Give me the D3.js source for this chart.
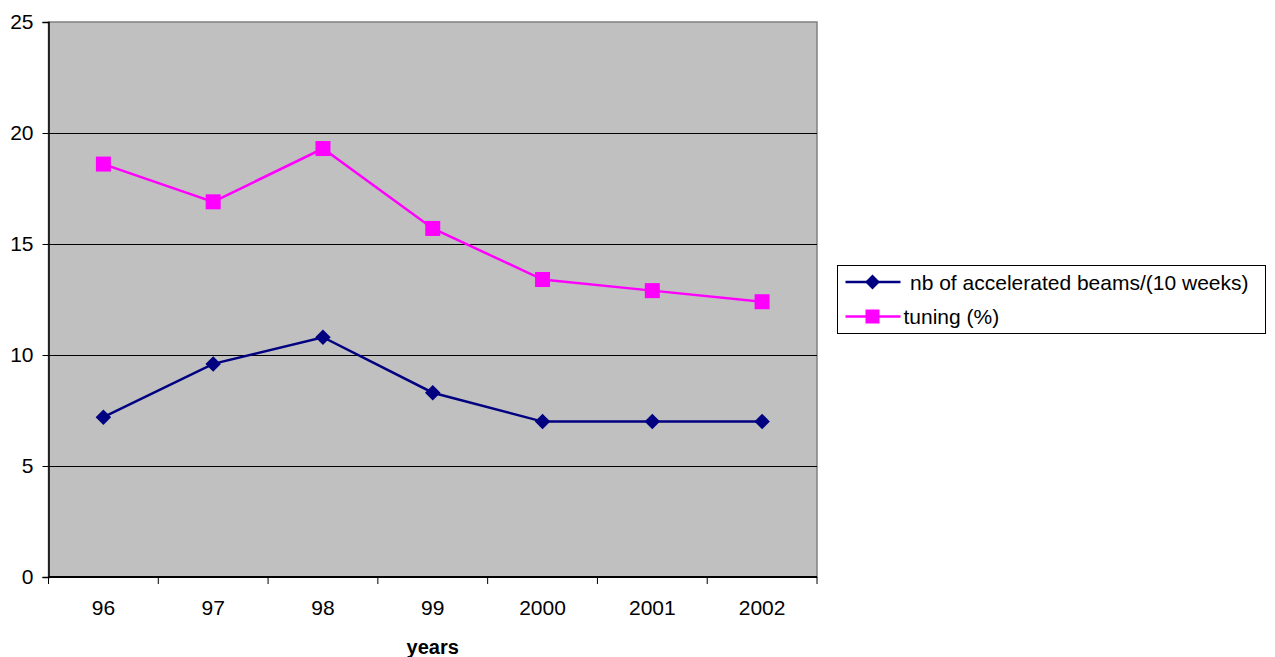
<!DOCTYPE html>
<html>
<head>
<meta charset="utf-8">
<script src="https://cdn.jsdelivr.net/npm/d3@7"></script>
<style>
  body { margin: 0; background: #fff; }
  text { font-family: "Liberation Sans", Arial, sans-serif; }
</style>
</head>
<body>
<div class="chart"></div>
<script>
var svgWidth = 1275;
var svgHeight = 657;

// data
var years = ["96", "97", "98", "99", "2000", "2001", "2002"];
var beams = [7.2, 9.6, 10.8, 8.3, 7.0, 7.0, 7.0];
var tuning = [18.6, 16.9, 19.3, 15.7, 13.4, 12.9, 12.4];
var yTicks = [0, 5, 10, 15, 20, 25];
var seriesNames = ["nb of accelerated beams/(10 weeks)", "tuning (%)"];

var fontSize = 21;

var margin = { top: 22, right: 458, bottom: 80, left: 48.5 };
var width = svgWidth - margin.left - margin.right;
var height = svgHeight - margin.top - margin.bottom;

var svg = d3.select(".chart")
  .append("svg")
  .attr("width", svgWidth)
  .attr("height", svgHeight);

var g = svg.append("g")
  .attr("transform", "translate(" + margin.left + "," + margin.top + ")");

var x = d3.scaleBand().domain(years).range([0, width]);
var y = d3.scaleLinear().domain([0, 25]).range([height, 0]);

// plot background
g.append("rect")
  .attr("width", width)
  .attr("height", height)
  .attr("fill", "#c0c0c0")
  .attr("stroke", "#808080")
  .attr("stroke-width", 1.5);

// gridlines
g.selectAll(".grid")
  .data(yTicks.filter(function(d) { return d > 0 && d < 25; }))
  .enter().append("line")
  .attr("x1", 0).attr("x2", width)
  .attr("y1", function(d) { return Math.round(y(d)) + 0.5; })
  .attr("y2", function(d) { return Math.round(y(d)) + 0.5; })
  .attr("stroke", "#000")
  .attr("stroke-width", 1);

// y axis
var yAxis = g.append("g")
  .call(d3.axisLeft(y).tickValues(yTicks).tickSize(6).tickPadding(9));
yAxis.select(".domain").attr("stroke", "#000").attr("stroke-width", 1.5);
yAxis.selectAll("text").attr("font-size", fontSize).attr("fill", "#000")
  .style("font-family", "'Liberation Sans', Arial, sans-serif");

// x axis: ticks at category boundaries
var xAxis = g.append("g")
  .attr("transform", "translate(0," + height + ")");
xAxis.append("line")
  .attr("x1", 0).attr("x2", width)
  .attr("stroke", "#000").attr("stroke-width", 2);
var bounds = years.map(function(d) { return x(d); }).concat([width]);
xAxis.selectAll(".tk")
  .data(bounds)
  .enter().append("line")
  .attr("x1", function(d) { return d; })
  .attr("x2", function(d) { return d; })
  .attr("y1", 0).attr("y2", 7)
  .attr("stroke", "#000");
xAxis.selectAll(".lbl")
  .data(years)
  .enter().append("text")
  .attr("x", function(d) { return x(d) + x.bandwidth() / 2; })
  .attr("y", 38)
  .attr("text-anchor", "middle")
  .attr("font-size", fontSize)
  .text(function(d) { return d; });

g.append("text")
  .attr("x", width / 2)
  .attr("y", height + 77)
  .attr("text-anchor", "middle")
  .attr("font-size", fontSize - 1)
  .attr("font-weight", "bold")
  .text("years");

var cx = function(d, i) { return x(years[i]) + x.bandwidth() / 2; };
var line = d3.line()
  .x(function(d, i) { return cx(d, i); })
  .y(function(d) { return y(d); });

// beams series
g.append("path")
  .attr("d", line(beams))
  .attr("fill", "none")
  .attr("stroke", "#000080")
  .attr("stroke-width", 2.5);
g.selectAll(".dia")
  .data(beams)
  .enter().append("path")
  .attr("d", d3.symbol().type(d3.symbolSquare).size(120))
  .attr("transform", function(d, i) { return "translate(" + cx(d, i) + "," + y(d) + ") rotate(45)"; })
  .attr("fill", "#000080");

// tuning series
g.append("path")
  .attr("d", line(tuning))
  .attr("fill", "none")
  .attr("stroke", "#ff00ff")
  .attr("stroke-width", 2.5);
g.selectAll(".sq")
  .data(tuning)
  .enter().append("rect")
  .attr("x", function(d, i) { return cx(d, i) - 7.5; })
  .attr("y", function(d) { return y(d) - 7.5; })
  .attr("width", 15).attr("height", 15)
  .attr("fill", "#ff00ff");

// legend
var leg = svg.append("g").attr("transform", "translate(837.5,265.5)");
leg.append("rect")
  .attr("width", 428).attr("height", 68)
  .attr("fill", "#fff").attr("stroke", "#000");

var legColors = ["#000080", "#ff00ff"];
seriesNames.forEach(function(name, i) {
  var ly = 16.5 + i * 34.5;
  leg.append("line")
    .attr("x1", 8).attr("x2", 63)
    .attr("y1", ly).attr("y2", ly)
    .attr("stroke", legColors[i]).attr("stroke-width", 2.5);
  if (i === 0) {
    leg.append("path")
      .attr("d", d3.symbol().type(d3.symbolSquare).size(110))
      .attr("transform", "translate(35," + ly + ") rotate(45)")
      .attr("fill", legColors[i]);
  } else {
    leg.append("rect")
      .attr("x", 28).attr("y", ly - 7)
      .attr("width", 14).attr("height", 14)
      .attr("fill", legColors[i]);
  }
  leg.append("text")
    .attr("x", i === 0 ? 72.5 : 66)
    .attr("y", ly + 7.5)
    .attr("font-size", fontSize)
    .text(name);
});
</script>
</body>
</html>
